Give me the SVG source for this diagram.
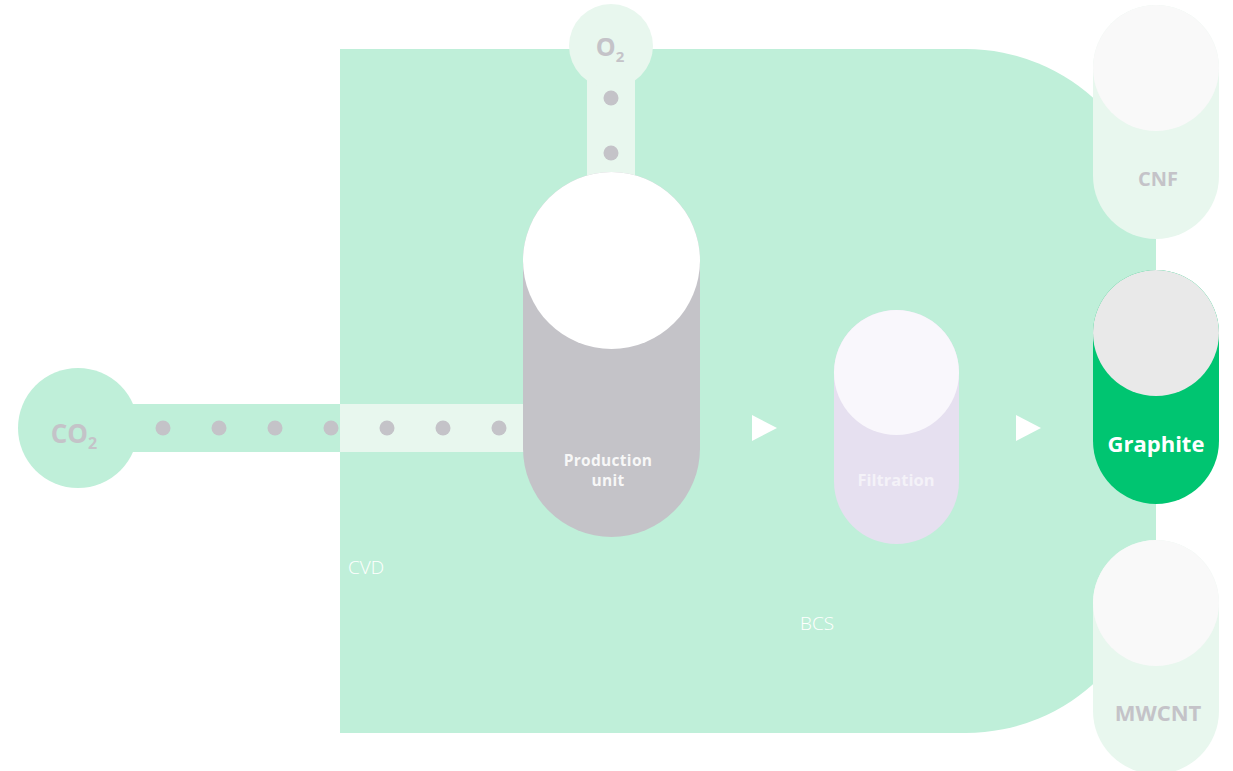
<svg xmlns="http://www.w3.org/2000/svg" width="1233" height="771" viewBox="0 0 1233 771">
<style>
.lbl{font-family:"Open Sans","Noto Sans",sans-serif;font-weight:700;text-anchor:middle}
.thin{font-family:"Open Sans","Lato",sans-serif;font-weight:300;font-size:19px;fill:#FFFFFF}
.dot{fill:#C4C3C8}
.pale{fill:#E8F7EE}
.grn{fill:#BFEFD9}
</style>
<rect width="1233" height="771" fill="#FFFFFF"/>
<g id="bcs-area">
<path class="grn" d="M340,49 H966 A190,190 0 0 1 1156,239 V543 A190,190 0 0 1 966,733 H340 Z"/>
<text class="thin" x="348" y="574">CVD</text>
<text class="thin" x="800" y="630">BCS</text>
</g>
<g id="co2">
<circle class="grn" cx="78" cy="428" r="60"/>
<rect class="grn" x="120" y="404" width="220" height="48"/>
<text class="lbl" x="74" y="443" font-size="26" fill="#C4C3C8">CO<tspan font-size="16" dy="6">2</tspan></text>
</g>
<g id="o2">
<rect class="pale" x="587" y="60" width="48" height="130"/>
<circle class="pale" cx="611" cy="46" r="42"/>
<text class="lbl" x="610" y="56" font-size="25" fill="#C4C3C8">O<tspan font-size="15" dy="6">2</tspan></text>
</g>
<g id="connectors">
<rect class="pale" x="340" y="404" width="190" height="48"/>
<circle class="dot" cx="163" cy="428" r="7.5"/>
<circle class="dot" cx="219" cy="428" r="7.5"/>
<circle class="dot" cx="275" cy="428" r="7.5"/>
<circle class="dot" cx="331" cy="428" r="7.5"/>
<circle class="dot" cx="387" cy="428" r="7.5"/>
<circle class="dot" cx="443" cy="428" r="7.5"/>
<circle class="dot" cx="499" cy="428" r="7.5"/>
<circle class="dot" cx="611" cy="98" r="7.5"/>
<circle class="dot" cx="611" cy="153" r="7.5"/>
<polygon points="752,415 777,428 752,441" fill="#FFFFFF"/>
<polygon points="1016,415 1041,428 1016,441" fill="#FFFFFF"/>
</g>
<g id="production-unit">
<rect x="523" y="172" width="177" height="365" rx="88.5" fill="#C4C3C8"/>
<circle cx="611.5" cy="260.5" r="88.5" fill="#FFFFFF"/>
<text class="lbl" x="608" y="466" font-size="15.5" letter-spacing="0.3" fill="#F7F7F7">Production</text>
<text class="lbl" x="608" y="486" font-size="15.5" letter-spacing="0.3" fill="#F7F7F7">unit</text>
</g>
<g id="filtration">
<rect x="834" y="310" width="125" height="234" rx="62.5" fill="#E6E0F0"/>
<circle cx="896.5" cy="372.5" r="62.5" fill="#F9F7FC"/>
<text class="lbl" x="896" y="486" font-size="16.5" fill="#F4F2F8">Filtration</text>
</g>
<g id="cnf">
<rect x="1093" y="5" width="126" height="234" rx="63" fill="#E8F7EE"/>
<circle cx="1156" cy="68" r="63" fill="#F9F9F9"/>
<text class="lbl" x="1158" y="186" font-size="20" fill="#C4C3C8">CNF</text>
</g>
<g id="graphite">
<rect x="1093" y="270" width="126" height="234" rx="63" fill="#00C571"/>
<circle cx="1156" cy="333" r="63" fill="#E9E9E9"/>
<text class="lbl" x="1156" y="452" font-size="22" fill="#FFFFFF">Graphite</text>
</g>
<g id="mwcnt">
<rect x="1093" y="540" width="126" height="234" rx="63" fill="#E8F7EE"/>
<circle cx="1156" cy="603" r="63" fill="#F9F9F9"/>
<text class="lbl" x="1158" y="721" font-size="22" fill="#C4C3C8">MWCNT</text>
</g>
</svg>
